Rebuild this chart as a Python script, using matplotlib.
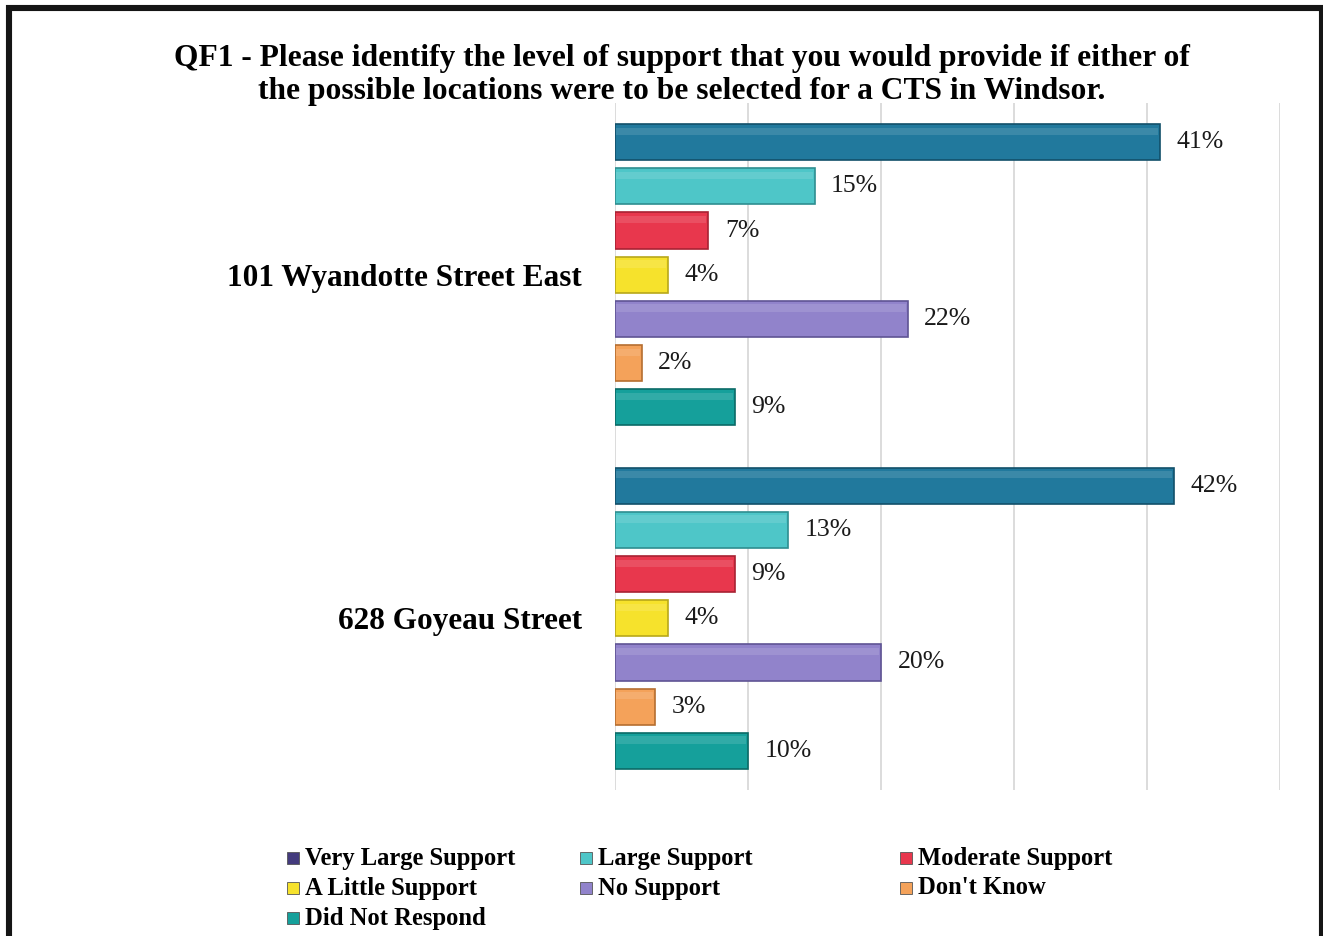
import matplotlib.pyplot as plt
from matplotlib.patches import Rectangle
import numpy as np

# data
locations = ["101 Wyandotte Street East", "628 Goyeau Street"]
responses = ["Very Large Support", "Large Support", "Moderate Support",
             "A Little Support", "No Support", "Don't Know", "Did Not Respond"]
wyandotte = [41, 15, 7, 4, 22, 2, 9]
goyeau = [42, 13, 9, 4, 20, 3, 10]

bar_colors = ["#21799D", "#4EC6C8", "#E8374D", "#F6E22C", "#9183CB", "#F4A25A", "#15A09B"]
edge_colors = ["#12506A", "#2E8E90", "#A82233", "#B8A81A", "#5F5494", "#B56E30", "#0B6B67"]
legend_colors = ["#433B7D", "#4EC6C8", "#E8374D", "#F6E22C", "#9183CB", "#F4A25A", "#15A09B"]

title = ("QF1 - Please identify the level of support that you would provide if either of\n"
         "the possible locations were to be selected for a CTS in Windsor.")

plt.rcParams['font.family'] = ['Liberation Serif', 'DejaVu Serif']

W, H = 1323, 936
fig = plt.figure(figsize=(W / 100, H / 100), dpi=100)
ax = fig.add_axes([615 / W, 1 - 790 / H, (1280 - 615) / W, (790 - 103) / H])

values = np.array([wyandotte, goyeau])
n = len(responses)
step = 44 / 342
height = 36 / 342
centers = np.arange(len(locations))

for i in range(n):
    ypos = centers + (i - (n - 1) / 2) * step
    bars = ax.barh(ypos, values[:, i], height=height, color=bar_colors[i],
                   edgecolor=edge_colors[i], linewidth=1.2, zorder=3)
    # soft lighter strip near the top for a bevelled look
    ax.barh(ypos - height * 0.3, values[:, i] - 0.25, left=0.1, height=height * 0.2,
            color="white", alpha=0.12, linewidth=0, zorder=4)
    for b, v in zip(bars, values[:, i]):
        ax.annotate(f"{v}%", (v, b.get_y() + b.get_height() / 2),
                    xytext=(12, 0), textcoords="offset points",
                    ha="left", va="center", fontsize=18.5, color="#1a1a1a")

ax.set_xlim(0, 50)
ax.set_ylim(1.5, -0.5)
ax.set_xticks(np.arange(0, 51, 10))
ax.set_xticklabels([])
ax.set_yticks(centers)
ax.set_yticklabels(locations, fontsize=22.5, fontweight="bold")
ax.tick_params(axis="both", length=0)
ax.tick_params(axis="y", pad=24)
ax.grid(axis="x", color="#D9D9D9", linewidth=1.3, zorder=0)
for s in ax.spines.values():
    s.set_visible(False)

fig.text(682 / W, 1 - 75 / H, title, ha="center", va="center",
         fontsize=22.7, fontweight="bold", linespacing=1.2)

# legend laid out row by row like the original
col_x = [287, 580, 900]
row_y = [858, 888, 918]
for k, name in enumerate(responses):
    r, c = divmod(k, 3)
    x, y = col_x[c], row_y[r]
    fig.patches.append(Rectangle((x / W, 1 - (y + 6) / H), 12 / W, 12 / H,
                                 transform=fig.transFigure, facecolor=legend_colors[k],
                                 edgecolor="#555555", linewidth=0.6))
    fig.text((x + 18) / W, 1 - y / H, name, ha="left", va="center",
             fontsize=17.7, fontweight="bold")

# black frame (bottom edge falls outside the image)
fig.patches.append(Rectangle((9 / W, -0.05), (1322 - 9) / W, 1.05 - 8 / H,
                             transform=fig.transFigure, fill=False,
                             edgecolor="#151515", linewidth=4.4))

fig.savefig("out.png", dpi=100)
